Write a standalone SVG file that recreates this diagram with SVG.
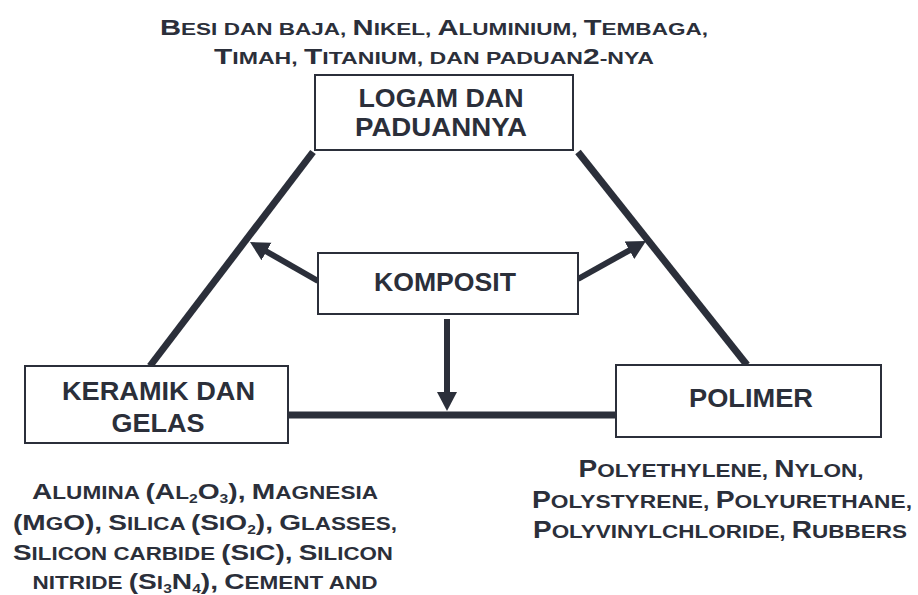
<svg xmlns="http://www.w3.org/2000/svg" width="918" height="595" viewBox="0 0 918 595">
<style>
.t{font-family:"Liberation Sans",Arial,sans-serif;font-weight:bold;fill:#2b2f3a}
.box{fill:#fff;stroke:#2b2f3a;stroke-width:2}
.lbl{font-size:25.5px;text-anchor:middle}
.c1{font-size:22px}
.c2{font-size:22.5px}
.c3{font-size:23px}
.sub{font-size:12.5px}
.edge{stroke:#2b2f3a;stroke-width:7;fill:none;stroke-linecap:butt}
.arr{stroke:#2b2f3a;stroke-width:6;fill:none}
</style>
<defs>
<marker id="ah" markerUnits="userSpaceOnUse" markerWidth="20" markerHeight="22" viewBox="0 -11 20 22" refX="1" refY="0" orient="auto">
<path d="M0,-10 L19,0 L0,10 z" fill="#2b2f3a"/>
</marker>
</defs>
<rect width="918" height="595" fill="#fff"/>
<g id="connectors">
<line class="edge" x1="150" y1="366" x2="313" y2="152"/>
<line class="edge" x1="578" y1="152" x2="747" y2="365"/>
<line class="edge" x1="288" y1="415" x2="616" y2="415"/>
<line class="arr" x1="318" y1="281" x2="265.6" y2="251" marker-end="url(#ah)"/>
<line class="arr" x1="578" y1="279" x2="630.3" y2="249.8" marker-end="url(#ah)"/>
<line class="arr" x1="447" y1="319" x2="447" y2="393" marker-end="url(#ah)"/>
</g>
<g id="logam">
<rect class="box" x="315" y="75" width="258" height="75"/>
<text class="t lbl" x="441" y="107" textLength="165" lengthAdjust="spacingAndGlyphs">LOGAM DAN</text>
<text class="t lbl" x="441" y="136" textLength="172" lengthAdjust="spacingAndGlyphs">PADUANNYA</text>
</g>
<g id="komposit">
<rect class="box" x="318" y="253" width="260" height="61"/>
<text class="t lbl" x="445" y="291" textLength="142" lengthAdjust="spacingAndGlyphs">KOMPOSIT</text>
</g>
<g id="keramik">
<rect class="box" x="25" y="366" width="263" height="77"/>
<text class="t lbl" x="158.5" y="400" textLength="193" lengthAdjust="spacingAndGlyphs">KERAMIK DAN</text>
<text class="t lbl" x="158" y="432" textLength="93" lengthAdjust="spacingAndGlyphs">GELAS</text>
</g>
<g id="polimer">
<rect class="box" x="616" y="365" width="265" height="72"/>
<text class="t lbl" x="751" y="407" textLength="124" lengthAdjust="spacingAndGlyphs">POLIMER</text>
</g>
<g id="logam-examples" class="t" font-size="17" text-anchor="middle">
<text x="434" y="35" textLength="548" lengthAdjust="spacingAndGlyphs"><tspan class="c1">B</tspan>ESI DAN BAJA, <tspan class="c1">N</tspan>IKEL, <tspan class="c1">A</tspan>LUMINIUM, <tspan class="c1">T</tspan>EMBAGA,</text>
<text x="434" y="64" textLength="440" lengthAdjust="spacingAndGlyphs"><tspan class="c1">T</tspan>IMAH, <tspan class="c1">T</tspan>ITANIUM, DAN PADUAN<tspan class="c1">2</tspan>-NYA</text>
</g>
<g id="keramik-examples" class="t" font-size="18" text-anchor="middle">
<text x="205" y="499" textLength="346" lengthAdjust="spacingAndGlyphs"><tspan class="c2">A</tspan>LUMINA <tspan class="c2">(A</tspan>L<tspan class="sub" dy="4">2</tspan><tspan class="c2" dy="-4">O</tspan><tspan class="sub" dy="4">3</tspan><tspan class="c2" dy="-4">),</tspan> <tspan class="c2">M</tspan>AGNESIA</text>
<text x="205" y="530" textLength="384" lengthAdjust="spacingAndGlyphs"><tspan class="c2">(M</tspan>G<tspan class="c2">O),</tspan> <tspan class="c2">S</tspan>ILICA <tspan class="c2">(S</tspan>I<tspan class="c2">O</tspan><tspan class="sub" dy="4">2</tspan><tspan class="c2" dy="-4">),</tspan> <tspan class="c2">G</tspan>LASSES,</text>
<text x="203" y="560" textLength="380" lengthAdjust="spacingAndGlyphs"><tspan class="c2">S</tspan>ILICON CARBIDE <tspan class="c2">(S</tspan>I<tspan class="c2">C),</tspan> <tspan class="c2">S</tspan>ILICON</text>
<text x="205" y="589" textLength="345" lengthAdjust="spacingAndGlyphs">NITRIDE <tspan class="c2">(S</tspan>I<tspan class="sub" dy="4">3</tspan><tspan class="c2" dy="-4">N</tspan><tspan class="sub" dy="4">4</tspan><tspan class="c2" dy="-4">),</tspan> <tspan class="c2">C</tspan>EMENT AND</text>
</g>
<g id="polimer-examples" class="t" font-size="18.5" text-anchor="middle">
<text x="721" y="477" textLength="285" lengthAdjust="spacingAndGlyphs"><tspan class="c3">P</tspan>OLYETHYLENE, <tspan class="c3">N</tspan>YLON,</text>
<text x="722" y="508" textLength="380" lengthAdjust="spacingAndGlyphs"><tspan class="c3">P</tspan>OLYSTYRENE, <tspan class="c3">P</tspan>OLYURETHANE,</text>
<text x="720" y="538" textLength="374" lengthAdjust="spacingAndGlyphs"><tspan class="c3">P</tspan>OLYVINYLCHLORIDE, <tspan class="c3">R</tspan>UBBERS</text>
</g>
</svg>
